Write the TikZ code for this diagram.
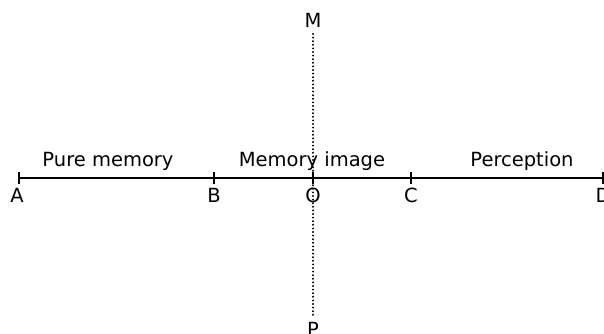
\documentclass[tikz,border=0pt]{standalone}
\usepackage{fontspec}
\setmainfont{DejaVu Sans}
\begin{document}
\begin{tikzpicture}[x=1pt,y=-1pt,
  lbl/.style={font=\fontsize{19.5}{21}\selectfont, inner sep=0pt, anchor=base},
  axis/.style={line width=2.2pt},
  tick/.style={line width=2pt},
  dotline/.style={line width=2.2pt, line cap=round, dash pattern=on 0pt off 3.6pt}]
\useasboundingbox (0,0) rectangle (604,334);
\coordinate (A) at (19,178);
\coordinate (B) at (214,178);
\coordinate (O) at (313,178);
\coordinate (C) at (411,178);
\coordinate (D) at (603,178);
\coordinate (Mtop) at (313,34);
\coordinate (Pbot) at (313,315);
\draw[axis] (A) -- (D);
\foreach \p in {A,B,O,C,D} \draw[tick] ([yshift=-6pt]\p) -- ([yshift=6pt]\p);
\draw[dotline] (Mtop) -- (Pbot);
\node[lbl] (la) at (17,202) {A};
\node[lbl] (lb) at (214,202) {B};
\node[lbl] (lo) at (313,202) {O};
\node[lbl] (lc) at (411,202) {C};
\node[lbl] (ld) at (603,202) {D};
\node[lbl] (lm) at (313,28) {M};
\node[lbl] (lp) at (313,336) {P};
\node[lbl] (pm) at (108,166) {Pure memory};
\node[lbl] (mi) at (312,166) {Memory image};
\node[lbl] (pe) at (522,166) {Perception};
\end{tikzpicture}
\end{document}
